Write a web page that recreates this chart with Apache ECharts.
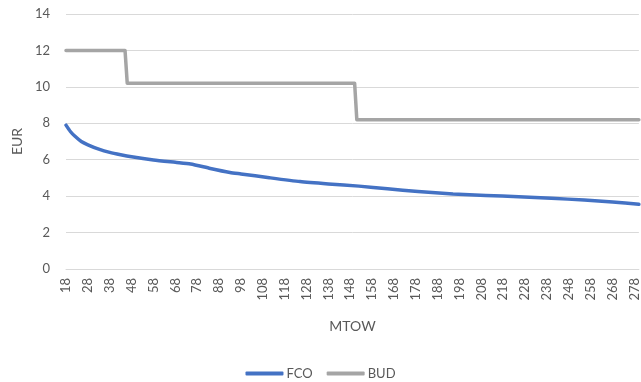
<!DOCTYPE html>
<html>
<head>
<meta charset="utf-8">
<script src="https://cdn.jsdelivr.net/npm/echarts@6/dist/echarts.min.js"></script>
<style>
  html, body { margin: 0; padding: 0; background: #ffffff; }
  #chart { width: 641px; height: 382px; }
</style>
</head>
<body>
<div id="chart"></div>
<script>
// MTOW range covered by the category axis (tonnes)
const mtowFirst = 18;
const mtowLast = 280;

// FCO charge per MTOW: [MTOW, EUR]
const fcoPoints = [
  [18, 7.9], [20, 7.55], [22, 7.3], [25, 7.0], [28, 6.82], [33, 6.58],
  [38, 6.4], [43, 6.27], [48, 6.16], [58, 5.99], [68, 5.86], [75, 5.77],
  [84, 5.52], [93, 5.3], [98, 5.22], [111, 5.01], [125, 4.8], [138, 4.67],
  [152, 4.55], [165, 4.4], [179, 4.26], [195, 4.12], [210, 4.04],
  [225, 3.97], [240, 3.88], [255, 3.79], [268, 3.68], [280, 3.55]
];

// BUD charge per MTOW, stepped bands: [MTOW, EUR]
const budPoints = [
  [18, 12], [45, 12], [46, 10.2], [150, 10.2], [151, 8.2], [280, 8.2]
];

const yTicks = { min: 0, max: 14, interval: 2 };

const categories = [];
for (let m = mtowFirst; m <= mtowLast; m++) categories.push(String(m));

const toSeriesData = pts => pts.map(p => [String(p[0]), p[1]]);

const textColor = '#595959';
const fontFamily = 'Lato, "Liberation Sans", sans-serif';

const chart = echarts.init(document.getElementById('chart'), null, { renderer: 'canvas' });
chart.setOption({
  animation: false,
  backgroundColor: '#ffffff',
  textStyle: { fontFamily: fontFamily, color: textColor },
  grid: { left: 66, right: 0, top: 14, bottom: 113, containLabel: false },
  legend: {
    bottom: -3,
    left: 'center',
    itemWidth: 38,
    itemHeight: 4,
    itemGap: 14,
    icon: 'roundRect',
    textStyle: { color: textColor, fontSize: 13, fontFamily: fontFamily, padding: [0, 0, 0, -2] },
    data: ['FCO', 'BUD']
  },
  xAxis: {
    type: 'category',
    data: categories,
    boundaryGap: false,
    name: 'MTOW',
    nameLocation: 'middle',
    nameGap: 50,
    nameTextStyle: { color: textColor, fontSize: 14, fontFamily: fontFamily },
    axisLine: { show: true, lineStyle: { color: '#d9d9d9', width: 1 } },
    axisTick: { show: false },
    axisLabel: {
      interval: 9,
      rotate: 90,
      margin: 9,
      color: textColor,
      fontSize: 13,
      fontFamily: fontFamily
    },
    splitLine: { show: false }
  },
  yAxis: {
    type: 'value',
    min: yTicks.min,
    max: yTicks.max,
    interval: yTicks.interval,
    name: 'EUR',
    nameLocation: 'middle',
    nameGap: 40,
    nameTextStyle: { color: textColor, fontSize: 14, fontFamily: fontFamily },
    axisLine: { show: false },
    axisTick: { show: false },
    axisLabel: { color: textColor, fontSize: 13, margin: 16, fontFamily: fontFamily },
    splitLine: { show: true, lineStyle: { color: '#d9d9d9', width: 1 } }
  },
  series: [
    {
      name: 'FCO',
      type: 'line',
      data: toSeriesData(fcoPoints),
      showSymbol: false,
      symbol: 'none',
      smooth: 0.2,
      color: '#4472c4',
      lineStyle: { color: '#4472c4', width: 3.5, cap: 'round', join: 'round' }
    },
    {
      name: 'BUD',
      type: 'line',
      data: toSeriesData(budPoints),
      showSymbol: false,
      symbol: 'none',
      color: '#a5a5a5',
      lineStyle: { color: '#a5a5a5', width: 3.5, cap: 'round', join: 'round' }
    }
  ]
});
</script>
</body>
</html>
